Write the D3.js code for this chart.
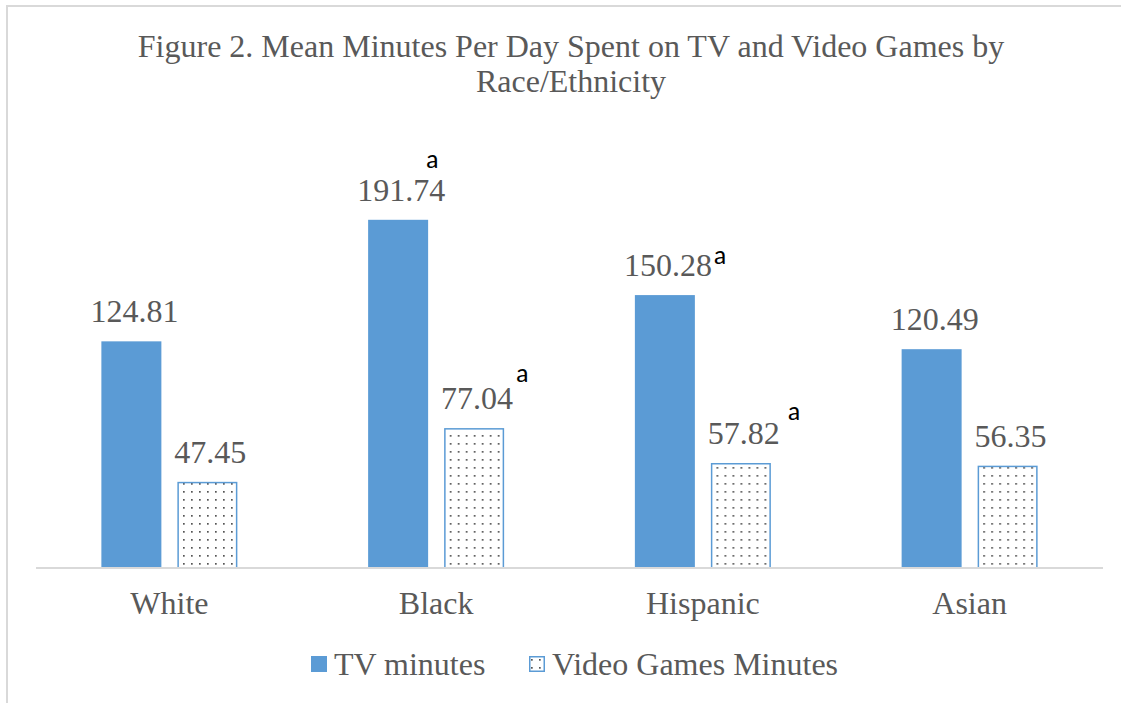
<!DOCTYPE html>
<html>
<head>
<meta charset="utf-8">
<script src="https://cdn.jsdelivr.net/npm/d3@7/dist/d3.min.js"></script>
<style>
  html, body { margin: 0; padding: 0; background: #fff; }
  svg { display: block; }
</style>
</head>
<body>
<svg id="chart" width="1121" height="703"></svg>
<script>
// Race/ethnicity groups on the x axis
const categories = ["White", "Black", "Hispanic", "Asian"];
const seriesNames = ["TV minutes", "Video Games Minutes"];
// Mean minutes per day
const tvMinutes = [124.81, 191.74, 150.28, 120.49];
const gameMinutes = [47.45, 77.04, 57.82, 56.35];
// Significance markers ("a") by category index and series
const markedTv = [false, true, true, false];
const markedGames = [false, true, true, false];

const titleLines = [
  "Figure 2. Mean Minutes Per Day Spent on TV and Video Games by",
  "Race/Ethnicity"
];

const W = 1121, H = 703;
const svg = d3.select("#chart");
const serif = "'Liberation Serif', 'Times New Roman', serif";
const sans = "Carlito, 'Open Sans', 'Liberation Sans', Arial, sans-serif";
const textGrey = "#595959";
const blue = "#5b9bd5";
const fontSize = 32;

// Chart area frame (left and top edges visible)
svg.append("path")
  .attr("d", `M7,${H} V6 H${W}`)
  .attr("fill", "none")
  .attr("stroke", "#d9d9d9")
  .attr("stroke-width", 2);

// Dotted fill for the video game bars
const defs = svg.append("defs");
const pat = defs.append("pattern")
  .attr("id", "dots")
  .attr("patternUnits", "userSpaceOnUse")
  .attr("width", 8).attr("height", 8);
pat.append("rect").attr("width", 8).attr("height", 8).attr("fill", "#fff");
pat.append("rect").attr("x", 3).attr("y", 3).attr("width", 1.7).attr("height", 1.7).attr("fill", "#555");

const plot = { left: 36, right: 1103, top: 114, bottom: 568 };

const x0 = d3.scaleBand()
  .domain(categories)
  .range([plot.left, plot.right])
  .padding(0);

const groupWidth = 136;
const x1 = d3.scaleBand()
  .domain(seriesNames)
  .range([(x0.bandwidth() - groupWidth) / 2, (x0.bandwidth() + groupWidth) / 2])
  .paddingInner(0.2105);

const y = d3.scaleLinear().domain([0, 250]).range([plot.bottom, plot.top]);

// Title
svg.append("text")
  .attr("x", 571).attr("y", 57)
  .attr("text-anchor", "middle")
  .attr("font-family", serif)
  .attr("font-size", fontSize)
  .attr("fill", textGrey)
  .selectAll("tspan")
  .data(titleLines)
  .join("tspan")
  .attr("x", 571)
  .attr("dy", (d, i) => i === 0 ? 0 : 35)
  .text(d => d);

const rows = categories.map((c, i) => ({
  category: c,
  index: i,
  values: [
    { series: seriesNames[0], value: tvMinutes[i], marked: markedTv[i], cat: i },
    { series: seriesNames[1], value: gameMinutes[i], marked: markedGames[i], cat: i }
  ]
}));

const groups = svg.append("g")
  .selectAll("g")
  .data(rows)
  .join("g")
  .attr("transform", d => `translate(${x0(d.category)},0)`);

const isGames = d => d.series === seriesNames[1];

groups.selectAll("rect")
  .data(d => d.values)
  .join("rect")
  .attr("x", d => x1(d.series) + (isGames(d) ? 0.75 : 0))
  .attr("y", d => y(d.value) + (isGames(d) ? 0.75 : 0))
  .attr("width", d => x1.bandwidth() - (isGames(d) ? 1.5 : 0))
  .attr("height", d => y(0) - y(d.value) - (isGames(d) ? 0.75 : 0))
  .attr("fill", d => isGames(d) ? "url(#dots)" : blue)
  .attr("stroke", d => isGames(d) ? blue : "none")
  .attr("stroke-width", 1.5);

// Value labels
groups.selectAll("text.value")
  .data(d => d.values)
  .join("text")
  .attr("class", "value")
  .attr("x", d => x1(d.series) + x1.bandwidth() / 2 + 3)
  .attr("y", d => y(d.value) - 19)
  .attr("text-anchor", "middle")
  .attr("font-family", serif)
  .attr("font-size", fontSize)
  .attr("fill", textGrey)
  .text(d => d.value.toFixed(2));

// "a" marker placement relative to each marked bar's top centre
const markOffset = (v) => {
  if (v.cat === 1 && !isGames(v)) return [34, -52];
  if (v.cat === 1 && isGames(v)) return [48, -46];
  if (v.cat === 2 && !isGames(v)) return [55, -31];
  return [53, -43];
};

groups.selectAll("text.mark")
  .data(d => d.values.filter(v => v.marked))
  .join("text")
  .attr("class", "mark")
  .attr("x", v => x1(v.series) + x1.bandwidth() / 2 + markOffset(v)[0])
  .attr("y", v => y(v.value) + markOffset(v)[1])
  .attr("text-anchor", "middle")
  .attr("font-family", sans)
  .attr("font-size", 26)
  .attr("fill", "#000")
  .text("a");

// Category axis
svg.append("line")
  .attr("x1", plot.left).attr("x2", plot.right)
  .attr("y1", y(0)).attr("y2", y(0))
  .attr("stroke", "#d9d9d9")
  .attr("stroke-width", 2);

svg.append("g")
  .selectAll("text")
  .data(categories)
  .join("text")
  .attr("x", d => x0(d) + x0.bandwidth() / 2)
  .attr("y", 614)
  .attr("text-anchor", "middle")
  .attr("font-family", serif)
  .attr("font-size", fontSize)
  .attr("fill", textGrey)
  .text(d => d);

// Legend
const legend = svg.append("g");
const legendItems = [
  { name: seriesNames[0], x: 311 },
  { name: seriesNames[1], x: 529 }
];
legendItems.forEach((it, i) => {
  if (i === 0) {
    legend.append("rect")
      .attr("x", it.x).attr("y", 656).attr("width", 16).attr("height", 16)
      .attr("fill", blue);
  } else {
    legend.append("rect")
      .attr("x", it.x + 0.75).attr("y", 656.75).attr("width", 14.5).attr("height", 14.5)
      .attr("fill", "url(#dots)")
      .attr("stroke", blue).attr("stroke-width", 1.5);
  }
  legend.append("text")
    .attr("x", it.x + 23).attr("y", 675)
    .attr("font-family", serif)
    .attr("font-size", fontSize)
    .attr("fill", textGrey)
    .text(it.name);
});
</script>
</body>
</html>
